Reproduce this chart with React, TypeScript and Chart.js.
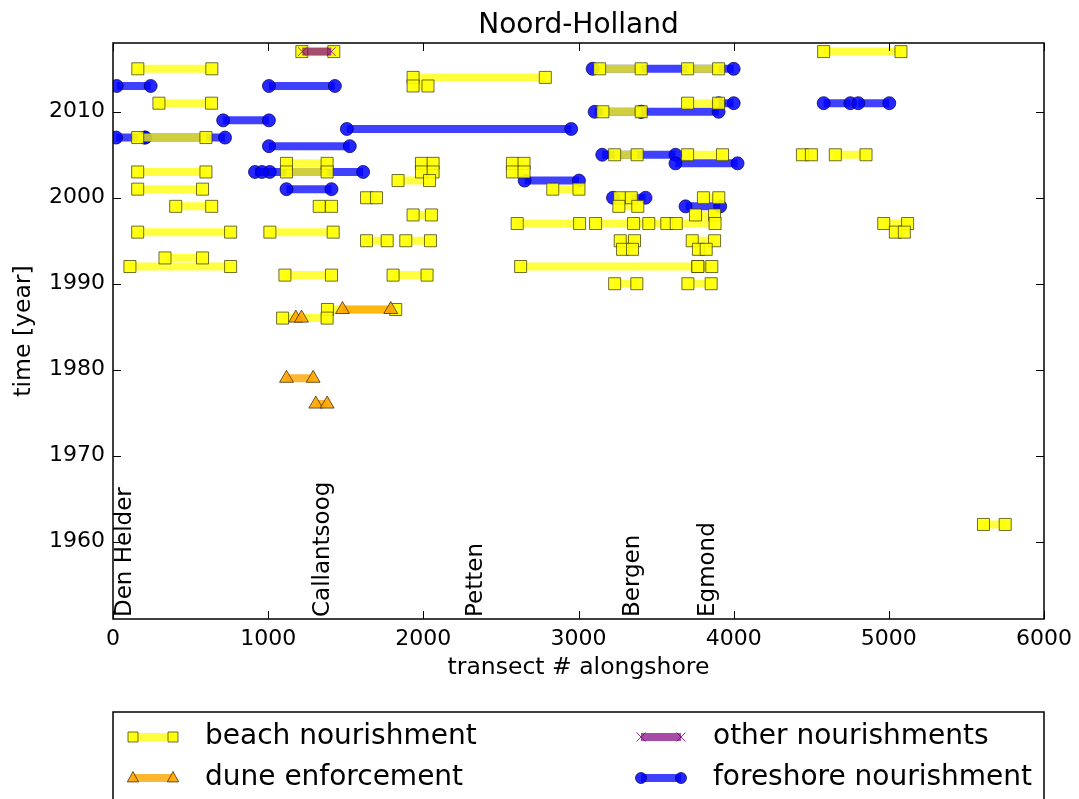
import React, { useEffect, useRef } from 'react';
import { Chart, registerables } from 'chart.js';

Chart.register(...registerables);

const FONT = '"DejaVu Sans", sans-serif';

// beach nourishment: year, start transect, end transect
const beachYears = [2017, 2017, 2015, 2015, 2015, 2014, 2013, 2011, 2011, 2010, 2007, 2005, 2005, 2005, 2005, 2004, 2004, 2004, 2003, 2003, 2003, 2003, 2002, 2001, 2001, 2000, 2000, 2000, 1999, 1999, 1999, 1998, 1998, 1997, 1997, 1997, 1997, 1997, 1996, 1996, 1996, 1995, 1995, 1995, 1995, 1994, 1994, 1993, 1992, 1992, 1992, 1991, 1991, 1990, 1990, 1987, 1986, 1962];
const beachStart = [1217, 4580, 160, 3136, 3703, 1934, 1934, 296, 3703, 3157, 159, 3233, 3703, 4443, 4655, 1118, 1988, 2574, 159, 1118, 1988, 2574, 1837, 159, 2834, 1634, 3265, 3805, 404, 1329, 3260, 1934, 3754, 2605, 3110, 3355, 3569, 4967, 159, 1011, 5042, 1634, 1887, 3269, 3733, 3284, 3773, 335, 109, 2627, 3769, 1108, 1805, 3233, 3705, 1382, 1093, 5610];
const beachEnd = [1423, 5078, 637, 3404, 3903, 2786, 2030, 635, 3903, 3404, 599, 3378, 3928, 4501, 4853, 1380, 2063, 2649, 599, 1380, 2063, 2649, 2040, 577, 3003, 1698, 3340, 3904, 636, 1408, 3382, 2052, 3877, 3007, 3880, 3453, 3630, 5121, 758, 1419, 5100, 1767, 2046, 3361, 3877, 3348, 3823, 577, 758, 3769, 3859, 1408, 2024, 3376, 3855, 1822, 1380, 5750];

// dune enforcement
const duneYears = [1987, 1986, 1979, 1976];
const duneStart = [1479, 1178, 1118, 1307];
const duneEnd = [1790, 1215, 1290, 1380];

// other nourishments
const otherYears = [2017];
const otherStart = [1220];
const otherEnd = [1407];

// foreshore nourishment
const foreYears = [2015, 2013, 2013, 2011, 2011, 2011, 2010, 2010, 2009, 2008, 2007, 2007, 2006, 2005, 2004, 2003, 2003, 2002, 2001, 2000, 1999];
const foreStart = [3091, 24, 1005, 3903, 4580, 4803, 3104, 3404, 710, 1507, 20, 206, 1005, 3153, 3625, 915, 960, 2653, 1118, 3222, 3690];
const foreEnd = [4000, 243, 1430, 4000, 4752, 5003, 3404, 3903, 1005, 2953, 206, 722, 1526, 3625, 4025, 1010, 1612, 3003, 1408, 3432, 3913];

const xTicks = [0, 1000, 2000, 3000, 4000, 5000, 6000];
const yTicks = [1960, 1970, 1980, 1990, 2000, 2010];

const locationNames = ['Den Helder', 'Callantsoog', 'Petten', 'Bergen', 'Egmond'];
const locationX = [0, 1274, 2262, 3270, 3754];

const chartTitle = 'Noord-Holland';
const xTitle = 'transect # alongshore';
const yTitle = 'time [year]';

function segments(years: number[], starts: number[], ends: number[]) {
  const out: any[] = [];
  for (let i = 0; i < years.length; i++) {
    out.push({ x: starts[i], y: years[i] });
    out.push({ x: ends[i], y: years[i] });
    out.push({ x: ends[i], y: null });
  }
  return out;
}

function drawMarker(ctx: CanvasRenderingContext2D, style: string, x: number, y: number, r: number, fill: string, stroke: string) {
  ctx.save();
  ctx.fillStyle = fill;
  ctx.strokeStyle = stroke;
  ctx.lineWidth = 1;
  ctx.beginPath();
  if (style === 'rect') {
    ctx.rect(x - r, y - r, 2 * r, 2 * r);
    ctx.fill();
    ctx.stroke();
  } else if (style === 'triangle') {
    ctx.moveTo(x, y - r);
    ctx.lineTo(x + r * 0.87, y + r * 0.6);
    ctx.lineTo(x - r * 0.87, y + r * 0.6);
    ctx.closePath();
    ctx.fill();
    ctx.stroke();
  } else if (style === 'crossRot') {
    ctx.moveTo(x - r, y - r);
    ctx.lineTo(x + r, y + r);
    ctx.moveTo(x + r, y - r);
    ctx.lineTo(x - r, y + r);
    ctx.stroke();
  } else {
    ctx.arc(x, y, r, 0, Math.PI * 2);
    ctx.fill();
    ctx.stroke();
  }
  ctx.restore();
}

const decorPlugin = {
  id: 'decor',
  afterDatasetsDraw(chart: any) {
    const { ctx, chartArea } = chart;
    const xs = chart.scales.x;
    const ys = chart.scales.y;
    ctx.save();
    // location labels
    ctx.fillStyle = '#000';
    ctx.font = `23px ${FONT}`;
    ctx.textAlign = 'left';
    ctx.textBaseline = 'top';
    for (let i = 0; i < locationNames.length; i++) {
      ctx.save();
      ctx.translate(xs.getPixelForValue(locationX[i]) + 1, chartArea.bottom - 2);
      ctx.rotate(-Math.PI / 2);
      ctx.fillText(locationNames[i], 0, 0);
      ctx.restore();
    }
    // frame
    ctx.strokeStyle = '#000';
    ctx.lineWidth = 1.5;
    ctx.strokeRect(chartArea.left, chartArea.top, chartArea.right - chartArea.left, chartArea.bottom - chartArea.top);
    // inward ticks
    ctx.lineWidth = 1;
    ctx.beginPath();
    xs.ticks.forEach((t: any) => {
      const px = Math.round(xs.getPixelForValue(t.value)) + 0.5;
      ctx.moveTo(px, chartArea.bottom);
      ctx.lineTo(px, chartArea.bottom - 8);
      ctx.moveTo(px, chartArea.top);
      ctx.lineTo(px, chartArea.top + 8);
    });
    ys.ticks.forEach((t: any) => {
      const py = Math.round(ys.getPixelForValue(t.value)) + 0.5;
      ctx.moveTo(chartArea.left, py);
      ctx.lineTo(chartArea.left + 8, py);
      ctx.moveTo(chartArea.right, py);
      ctx.lineTo(chartArea.right - 8, py);
    });
    ctx.stroke();
    ctx.restore();
  },
  afterDraw(chart: any) {
    const { ctx, chartArea } = chart;
    ctx.save();
    // title
    ctx.fillStyle = '#000';
    ctx.font = `28px ${FONT}`;
    ctx.textAlign = 'center';
    ctx.textBaseline = 'alphabetic';
    ctx.fillText(chartTitle, (chartArea.left + chartArea.right) / 2, 33);

    // legend box
    const boxTop = 712;
    ctx.strokeStyle = '#000';
    ctx.lineWidth = 1.5;
    ctx.fillStyle = '#fff';
    ctx.beginPath();
    ctx.rect(chartArea.left, boxTop, chartArea.right - chartArea.left, 140);
    ctx.fill();
    ctx.stroke();

    const order = ['beach nourishment', 'dune enforcement', 'other nourishments', 'foreshore nourishment'];
    const colX = [chartArea.left + 20, chartArea.left + 528];
    const rowY = [737, 778];
    order.forEach((label, i) => {
      const ds = chart.data.datasets.find((d: any) => d.label === label);
      if (!ds) return;
      const cx = colX[Math.floor(i / 2)];
      const cy = rowY[i % 2];
      ctx.save();
      ctx.strokeStyle = ds.borderColor;
      ctx.lineWidth = 8;
      ctx.beginPath();
      ctx.moveTo(cx, cy);
      ctx.lineTo(cx + 40, cy);
      ctx.stroke();
      ctx.restore();
      const r = ds.pointStyle === 'rect' ? 5 : ds.pointStyle === 'crossRot' ? 4.5 : ds.pointStyle === 'triangle' ? 6.5 : 5.5;
      drawMarker(ctx, ds.pointStyle, cx, cy, r, ds.pointBackgroundColor, ds.pointBorderColor);
      drawMarker(ctx, ds.pointStyle, cx + 40, cy, r, ds.pointBackgroundColor, ds.pointBorderColor);
      ctx.fillStyle = '#000';
      ctx.font = `28px ${FONT}`;
      ctx.textAlign = 'left';
      ctx.textBaseline = 'middle';
      ctx.fillText(label, cx + 72, cy);
    });
    ctx.restore();
  },
};

export default function App() {
  const canvasRef = useRef<HTMLCanvasElement | null>(null);

  useEffect(() => {
    if (!canvasRef.current) return;
    const common = { showLine: true, spanGaps: false, borderWidth: 8, borderCapStyle: 'butt', pointBorderWidth: 1, clip: 0 };
    const chart = new Chart(canvasRef.current, {
      type: 'scatter',
      data: {
        datasets: [
          {
            ...common,
            label: 'other nourishments',
            data: segments(otherYears, otherStart, otherEnd),
            borderColor: 'rgba(128,0,128,0.7)',
            pointStyle: 'crossRot',
            pointRadius: 6,
            pointBackgroundColor: 'rgba(128,0,128,0.7)',
            pointBorderColor: 'rgba(128,0,128,0.8)',
            order: 0,
          },
          {
            ...common,
            label: 'dune enforcement',
            data: segments(duneYears, duneStart, duneEnd),
            borderColor: 'rgba(255,165,0,0.8)',
            pointStyle: 'triangle',
            pointRadius: 8,
            pointBackgroundColor: 'rgba(255,165,0,0.9)',
            pointBorderColor: 'rgba(60,40,0,0.75)',
            order: 1,
          },
          {
            ...common,
            label: 'beach nourishment',
            data: segments(beachYears, beachStart, beachEnd),
            borderColor: 'rgba(255,255,0,0.75)',
            pointStyle: 'rect',
            pointRadius: 8.5,
            pointBackgroundColor: 'rgba(255,255,0,0.9)',
            pointBorderColor: 'rgba(50,50,0,0.7)',
            order: 2,
          },
          {
            ...common,
            label: 'foreshore nourishment',
            data: segments(foreYears, foreStart, foreEnd),
            borderColor: 'rgba(0,0,255,0.75)',
            pointStyle: 'circle',
            pointRadius: 6.5,
            pointBackgroundColor: 'rgba(0,0,255,0.85)',
            pointBorderColor: 'rgba(0,0,80,0.7)',
            order: 3,
          },
        ] as any,
      },
      options: {
        animation: false,
        responsive: false,
        devicePixelRatio: 1,
        events: [],
        layout: { padding: { left: 0, right: 34, top: 43, bottom: 110 } },
        plugins: {
          legend: { display: false },
          title: { display: false },
          tooltip: { enabled: false },
        },
        scales: {
          x: {
            type: 'linear',
            min: 0,
            max: 6000,
            afterBuildTicks: (s: any) => {
              s.ticks = xTicks.map((v) => ({ value: v }));
            },
            afterFit: (s: any) => {
              s.height = 70;
            },
            grid: { display: false, drawTicks: false },
            border: { display: false },
            ticks: {
              color: '#000',
              font: { family: FONT, size: 22 },
              padding: 7,
              maxRotation: 0,
              callback: (v: any) => String(v),
            },
            title: {
              display: true,
              text: xTitle,
              color: '#000',
              font: { family: FONT, size: 23.5 },
              padding: { top: 0, bottom: 7 },
            },
          },
          y: {
            type: 'linear',
            min: 1951,
            max: 2018,
            afterBuildTicks: (s: any) => {
              s.ticks = yTicks.map((v) => ({ value: v }));
            },
            afterFit: (s: any) => {
              s.width = 113;
            },
            grid: { display: false, drawTicks: false },
            border: { display: false },
            ticks: {
              color: '#000',
              font: { family: FONT, size: 22 },
              padding: 8,
              callback: (v: any) => String(v),
            },
            title: {
              display: true,
              text: yTitle,
              color: '#000',
              font: { family: FONT, size: 23.5 },
              padding: { top: 10, bottom: 0 },
            },
          },
        },
      } as any,
      plugins: [decorPlugin],
    });
    return () => chart.destroy();
  }, []);

  return (
    <div style={{ position: 'absolute', left: 0, top: 0, width: 1079, height: 799, background: '#fff' }}>
      <canvas ref={canvasRef} width={1079} height={799} style={{ display: 'block' }} />
    </div>
  );
}
